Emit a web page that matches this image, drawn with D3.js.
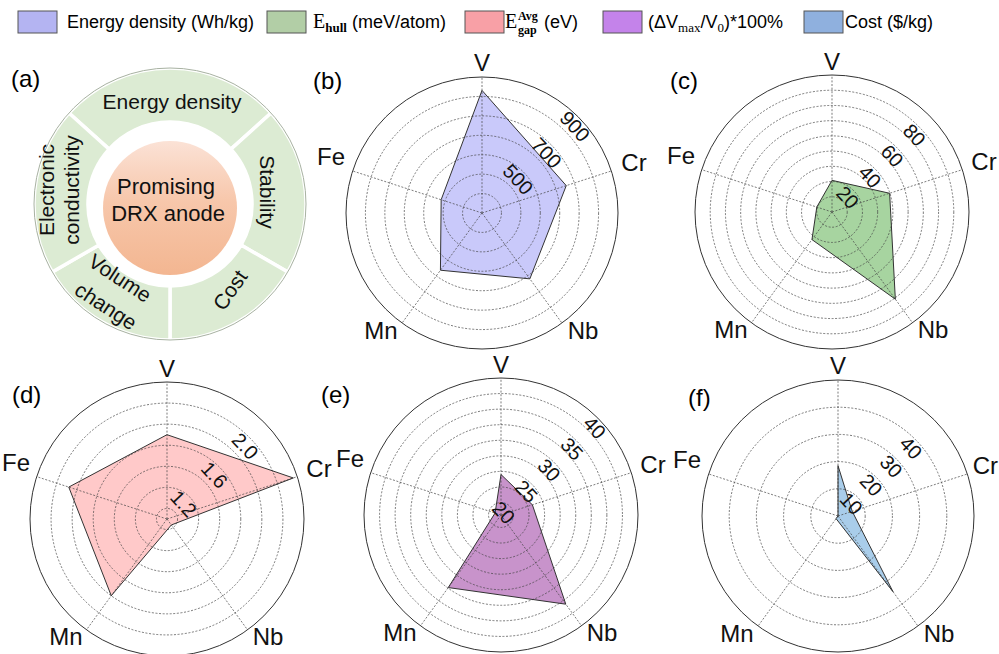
<!DOCTYPE html>
<html><head><meta charset="utf-8">
<script src="https://cdn.jsdelivr.net/npm/d3@7"></script>
<style>body{margin:0;background:#fff}svg{display:block}</style>
</head><body>
<svg id="c" width="999" height="654"></svg>
<script>
// ---------- data ----------
const axesLabels = ["V", "Cr", "Nb", "Mn", "Fe"];           // clockwise from top
const energyDensity = [831, 656, 619, 564, 421];             // Wh/kg
const eHull = [20.8, 39.8, 70.8, 22.4, 10.5];                // meV/atom
const eGap = [1.70, 2.16, 0.97, 1.80, 1.88];                 // eV
const volumeChange = [24.5, 23.3, 35.7, 32.4, 19.0];         // %
const cost = [18.5, 5.5, 34.4, 1.2, 0];                      // $/kg

const domB = [200, 900], gridB = [300, 400, 500, 600, 700, 800], labB = [500, 700, 900];
const domC = [0, 90], gridC = [10, 20, 30, 40, 50, 60, 70, 80], labC = [20, 40, 60, 80];
const domD = [0.9, 2.2], gridD = [1.0, 1.2, 1.4, 1.6, 1.8, 2.0], labD = ["1.2", "1.6", "2.0"];
const domE = [18, 40], gridE = [20, 22.5, 25, 27.5, 30, 32.5, 35, 37.5], labE = [20, 25, 30, 35, 40];
const domF = [0, 50], gridF = [10, 20, 30, 40], labF = [10, 20, 30, 40];

const legendNames = ["Energy density (Wh/kg)", "E_hull (meV/atom)", "E_gap^Avg (eV)", "(ΔV_max/V_0)*100%", "Cost ($/kg)"];
const legendColors = ["#b4b4f2", "#b2cea6", "#f8a0a6", "#c483ea", "#8fb0de"];
const fillColors = ["#c9c9fa", "#a7d4a0", "#ffc9c9", "#c893cb", "#a9cdea"];

const ringNames = ["Energy density", "Stability", "Cost", "Volume change", "Electronic conductivity"];

// ---------- drawing ----------
const svg = d3.select("#c");
const SANS = "'Liberation Sans', Arial, Helvetica, sans-serif";
const SERIF = "'Liberation Serif', 'Times New Roman', serif";

// legend
const lg = svg.append("g");
const swX = [18, 267, 465, 603, 804];
legendColors.forEach((c, i) => {
  lg.append("rect").attr("x", swX[i]).attr("y", 11).attr("width", 39).attr("height", 22)
    .attr("fill", c).attr("stroke", "#555").attr("stroke-width", 1);
});
lg.append("text").attr("x", 67).attr("y", 28).attr("font-family", SANS).attr("font-size", 18).text(legendNames[0]);
{
  const t = lg.append("text").attr("x", 313).attr("y", 28).attr("font-size", 18);
  t.append("tspan").attr("font-family", SERIF).attr("font-size", 20).text("E");
  t.append("tspan").attr("font-family", SERIF).attr("font-weight", "bold").attr("font-size", 13).attr("dy", 4).text("hull");
  t.append("tspan").attr("font-family", SANS).attr("dy", -4).text(" (meV/atom)");
}
{
  lg.append("text").attr("x", 505).attr("y", 28).attr("font-family", SERIF).attr("font-size", 20).text("E");
  lg.append("text").attr("x", 518).attr("y", 20).attr("font-family", SERIF).attr("font-weight", "bold").attr("font-size", 12).text("Avg");
  lg.append("text").attr("x", 518).attr("y", 34).attr("font-family", SERIF).attr("font-weight", "bold").attr("font-size", 12).text("gap");
  lg.append("text").attr("x", 544).attr("y", 28).attr("font-family", SANS).attr("font-size", 18).text("(eV)");
}
{
  const t = lg.append("text").attr("x", 648).attr("y", 28).attr("font-size", 18).attr("font-family", SANS);
  t.append("tspan").text("(ΔV");
  t.append("tspan").attr("font-family", SERIF).attr("font-size", 13).attr("dy", 4).text("max");
  t.append("tspan").attr("dy", -4).text("/V");
  t.append("tspan").attr("font-family", SERIF).attr("font-size", 13).attr("dy", 4).text("0");
  t.append("tspan").attr("dy", -4).text(")*100%");
}
lg.append("text").attr("x", 845).attr("y", 28).attr("font-family", SANS).attr("font-size", 18).text(legendNames[4]);

// panel (a)
{
  const cx = 170, cy = 204;
  const g = svg.append("g").attr("transform", `translate(${cx},${cy})`);
  const defs = svg.append("defs");
  const gr = defs.append("linearGradient").attr("id", "og").attr("x1", 0).attr("y1", 0).attr("x2", 0).attr("y2", 1);
  gr.append("stop").attr("offset", "0%").attr("stop-color", "#fbe2d6");
  gr.append("stop").attr("offset", "45%").attr("stop-color", "#f7c7ab");
  gr.append("stop").attr("offset", "100%").attr("stop-color", "#f3b691");
  const deg = Math.PI / 180;
  const segs = [[-48, 48], [48, 120], [120, 180], [180, 240], [240, 312]];
  const arc = d3.arc().innerRadius(82).outerRadius(136);
  segs.forEach(s => {
    g.append("path").attr("d", arc({startAngle: s[0] * deg, endAngle: s[1] * deg}))
      .attr("fill", "#dcebd3").attr("stroke", "#fff").attr("stroke-width", 3.5);
  });
  g.append("circle").attr("r", 136).attr("fill", "none").attr("stroke", "#a8b2a2").attr("stroke-width", 1);
  g.append("circle").attr("cy", 4).attr("r", 67).attr("fill", "url(#og)");
  const T = (x, y, rot, s, fs) => {
    g.append("text").attr("transform", `translate(${x},${y}) rotate(${rot})`).attr("dy", "0.35em")
      .attr("font-family", SANS).attr("font-size", fs || 21).attr("text-anchor", "middle").attr("fill", "#111")
      .text(s);
  };
  T(2, -102, 0, ringNames[0]);
  T(97, -12, 90, ringNames[1]);
  T(60, 86, -55, ringNames[2]);
  T(-50, 74, 33, "Volume");
  T(-64, 102, 33, "change");
  T(-123, -14, -90, "Electronic");
  T(-98, -14, -90, "conductivity");
  T(-4, -18, 0, "Promising", 22);
  T(-2, 9, 0, "DRX anode", 22);
  svg.append("text").attr("x", 11).attr("y", 87).attr("font-family", SANS).attr("font-size", 24).text("(a)");
}

// axis-label offsets from the centre, per category (V, Cr, Nb, Mn, Fe)
const labelOffsets = [[0, -151], [152, -51], [101, 117], [-101, 117], [-151, -57]];

// radar panels
function radar(opt) {
  const {cx, cy, R, dom, grid, labels, vals, fill, tag} = opt;
  const r = d3.scaleLinear().domain(dom).range([0, R]);
  const ang = i => i * 2 * Math.PI / axesLabels.length;  // clockwise from top
  const pt = (rad, a) => [rad * Math.sin(a), -rad * Math.cos(a)];
  const g = svg.append("g").attr("transform", `translate(${cx},${cy})`);
  const line = d3.lineRadial().angle((d, i) => ang(i)).radius(d => r(Math.max(d, dom[0]))).curve(d3.curveLinearClosed);
  g.append("path").attr("d", line(vals)).attr("fill", fill).attr("stroke", "none");
  grid.forEach(v => {
    g.append("circle").attr("r", r(v)).attr("fill", "none").attr("stroke", "#444")
      .attr("stroke-width", 0.7).attr("stroke-dasharray", "2,1.6");
  });
  axesLabels.forEach((a, i) => {
    const [x, y] = pt(R, ang(i));
    g.append("line").attr("x1", 0).attr("y1", 0).attr("x2", x).attr("y2", y)
      .attr("stroke", "#444").attr("stroke-width", 0.7).attr("stroke-dasharray", "2,1.6");
  });
  g.append("circle").attr("r", R).attr("fill", "none").attr("stroke", "#333").attr("stroke-width", 1);
  g.append("path").attr("d", line(vals)).attr("fill", "none").attr("stroke", "#333").attr("stroke-width", 1);
  const la = 43 * Math.PI / 180;
  labels.forEach(v => {
    const rad = r(+v) - 9;
    const x = rad * Math.cos(la), y = -rad * Math.sin(la);
    g.append("text").attr("transform", `translate(${x},${y}) rotate(47)`)
      .attr("text-anchor", "middle").attr("dy", "0.35em")
      .attr("font-family", SANS).attr("font-size", 20).attr("fill", "#111").text(v);
  });
  axesLabels.forEach((a, i) => {
    const [x, y] = labelOffsets[i];
    const t = g.append("text").attr("x", x).attr("y", y).attr("text-anchor", "middle").attr("dy", "0.36em")
      .attr("font-family", SANS).attr("font-size", 24).attr("fill", "#111").text(a);
    const w = t.node().getComputedTextLength();
    if (cx + x + w / 2 > 998) t.attr("x", 998 - cx - w / 2);   // keep inside the page
  });
  svg.append("text").attr("x", tag[1]).attr("y", tag[2]).attr("font-family", SANS).attr("font-size", 24).text(tag[0]);
}

radar({cx: 482, cy: 213, R: 136, dom: domB, grid: gridB, labels: labB, vals: energyDensity, fill: fillColors[0], tag: ["(b)", 313, 89]});
radar({cx: 832, cy: 212, R: 137, dom: domC, grid: gridC, labels: labC, vals: eHull, fill: fillColors[1], tag: ["(c)", 670, 89]});
radar({cx: 167, cy: 519, R: 137, dom: domD, grid: gridD, labels: labD, vals: eGap, fill: fillColors[2], tag: ["(d)", 12, 403]});
radar({cx: 501, cy: 515, R: 137, dom: domE, grid: gridE, labels: labE, vals: volumeChange, fill: fillColors[3], tag: ["(e)", 321, 403]});
radar({cx: 838, cy: 516, R: 136, dom: domF, grid: gridF, labels: labF, vals: cost, fill: fillColors[4], tag: ["(f)", 688, 406]});
</script>
</body></html>
